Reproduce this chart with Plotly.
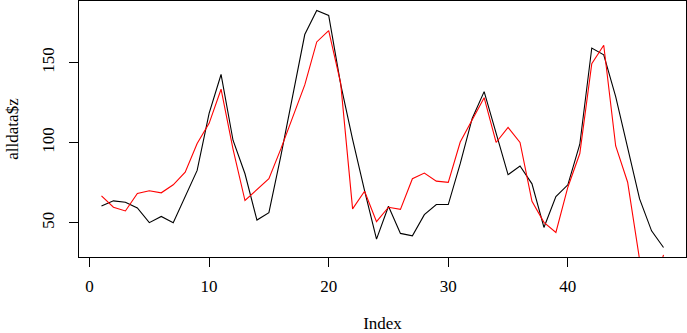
import plotly.graph_objects as go

index = list(range(1, 49))
black_z = [60.5, 63.7, 62.8, 59.3, 50.1, 54.0, 50.1, 65.9, 82.7, 118.3,
           142.5, 101.5, 80.6, 51.7, 56.3, 91.7, 128.7, 167.4, 182.4, 179.3,
           136.5, 102.0, 70.1, 39.8, 60.3, 43.4, 41.9, 55.1, 61.4, 61.4,
           86.9, 115.1, 131.8, 105.7, 80.0, 85.4, 74.3, 47.1, 66.4, 73.7,
           99.0, 159.0, 154.8, 128.7, 97.3, 64.9, 45.0, 34.6]
red_z = [66.8, 59.7, 57.4, 68.3, 70.0, 68.7, 73.7, 81.6, 99.4, 112.0,
         133.3, 96.0, 63.9, 70.8, 77.5, 96.1, 115.7, 136.0, 162.8, 169.9,
         137.1, 58.7, 69.7, 50.7, 59.7, 58.4, 77.5, 81.0, 76.0, 75.2,
         100.4, 114.1, 128.0, 100.1, 109.5, 100.1, 63.4, 50.3, 44.0, 72.2,
         93.2, 149.2, 160.7, 97.9, 75.3, 27.0, 5.0, 30.0]
x_ticks = [0, 10, 20, 30, 40]
y_ticks = [50, 100, 150]

xmin, xmax = min(index), max(index)
ymin, ymax = min(black_z), max(black_z)
dx = 0.04 * (xmax - xmin)
dy = 0.04 * (ymax - ymin)

font = dict(family="Liberation Serif", size=17, color="black")

fig = go.Figure()
fig.add_trace(go.Scatter(x=index, y=black_z, mode="lines",
                         line=dict(color="black", width=1.1), showlegend=False))
fig.add_trace(go.Scatter(x=index, y=red_z, mode="lines",
                         line=dict(color="red", width=1.1), showlegend=False))

fig.update_layout(
    width=687, height=333,
    margin=dict(l=79, r=1, t=1, b=76),
    paper_bgcolor="white", plot_bgcolor="white",
    font=font,
    xaxis=dict(range=[xmin - dx, xmax + dx], tickvals=x_ticks,
               ticks="outside", ticklen=9, tickcolor="black", tickwidth=1,
               showline=True, linecolor="black", linewidth=1, mirror=True,
               showgrid=False, zeroline=False, ticklabelstandoff=5,
               tickfont=font,
               title=dict(text="Index", standoff=24, font=font),
               automargin=False),
    yaxis=dict(range=[ymin - dy, ymax + dy], tickvals=y_ticks,
               ticks="outside", ticklen=9, tickcolor="black", tickwidth=1,
               showline=True, linecolor="black", linewidth=1, mirror=True,
               showgrid=False, zeroline=False, tickangle=-90,
               ticklabelstandoff=8, tickfont=font,
               title=dict(text="alldata$z", standoff=16, font=font),
               automargin=False),
)

fig.write_html("out.html", config={"displayModeBar": False},
               post_script="document.body.style.margin='0px';document.body.style.overflow='hidden';")
